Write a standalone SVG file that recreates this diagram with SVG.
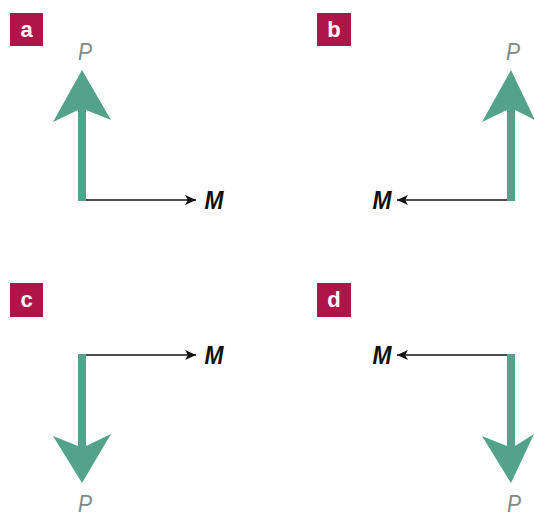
<svg xmlns="http://www.w3.org/2000/svg" width="534" height="519" viewBox="0 0 534 519">
<defs>
<style>
.lbl{fill:#b0154a}
.lt{fill:#fff;font-family:"Liberation Sans",Arial,sans-serif;font-weight:bold;font-size:22px;text-anchor:middle}
.p{fill:#7f8a86;font-family:"Liberation Sans",Arial,sans-serif;font-style:italic;font-size:24px;text-anchor:middle}
.m{fill:#111;font-family:"Liberation Sans",Arial,sans-serif;font-style:italic;font-weight:bold;font-size:25px;text-anchor:middle}
.g{fill:#52a38a}
.ml{stroke:#111;stroke-width:1.6;fill:none;marker-end:url(#ah)}
</style>
<marker id="ah" markerUnits="userSpaceOnUse" markerWidth="12" markerHeight="10" refX="11" refY="5" orient="auto">
<path d="M0,0 L11,5 L0,10 L3,5 Z" fill="#111"/>
</marker>
</defs>
<g id="connectors">
<path class="ml" d="M84,200 H196"/>
<path class="ml" d="M509,200 H397"/>
<path class="ml" d="M84,355 H196"/>
<path class="ml" d="M509,355 H397"/>
</g>
<g id="panel-a">
<rect class="lbl" x="10" y="13" width="33" height="33"/>
<text class="lt" x="26.5" y="37">a</text>
<text class="p" x="85" y="60" textLength="14" lengthAdjust="spacingAndGlyphs">P</text>
<g id="arrow-a">
<rect class="g" x="78" y="105" width="8" height="96"/>
<polygon class="g" points="82,70 111,120 86,110 78,110 53,122"/>
</g>
<text class="m" x="214" y="209" textLength="19" lengthAdjust="spacingAndGlyphs">M</text>
</g>
<g id="panel-b">
<rect class="lbl" x="317" y="13" width="34" height="33"/>
<text class="lt" x="334" y="37">b</text>
<text class="p" x="513" y="60" textLength="14" lengthAdjust="spacingAndGlyphs">P</text>
<g id="arrow-b">
<rect class="g" x="507" y="105" width="8" height="96"/>
<polygon class="g" points="511,70 535,120 515,110 507,110 482,122"/>
</g>
<text class="m" x="382" y="209" textLength="19" lengthAdjust="spacingAndGlyphs">M</text>
</g>
<g id="panel-c">
<rect class="lbl" x="10" y="283" width="33" height="34"/>
<text class="lt" x="26.5" y="307">c</text>
<g id="arrow-c">
<rect class="g" x="78" y="354" width="8" height="96"/>
<polygon class="g" points="82,483 111,434 86,446 78,446 53,436"/>
</g>
<text class="m" x="214" y="364" textLength="19" lengthAdjust="spacingAndGlyphs">M</text>
<text class="p" x="85" y="512" textLength="14" lengthAdjust="spacingAndGlyphs">P</text>
</g>
<g id="panel-d">
<rect class="lbl" x="317" y="283" width="34" height="34"/>
<text class="lt" x="334" y="307">d</text>
<g id="arrow-d">
<rect class="g" x="507" y="354" width="8" height="96"/>
<polygon class="g" points="511,483 534,434 515,446 507,446 482,436"/>
</g>
<text class="m" x="382" y="364" textLength="19" lengthAdjust="spacingAndGlyphs">M</text>
<text class="p" x="514" y="512" textLength="14" lengthAdjust="spacingAndGlyphs">P</text>
</g>
</svg>
